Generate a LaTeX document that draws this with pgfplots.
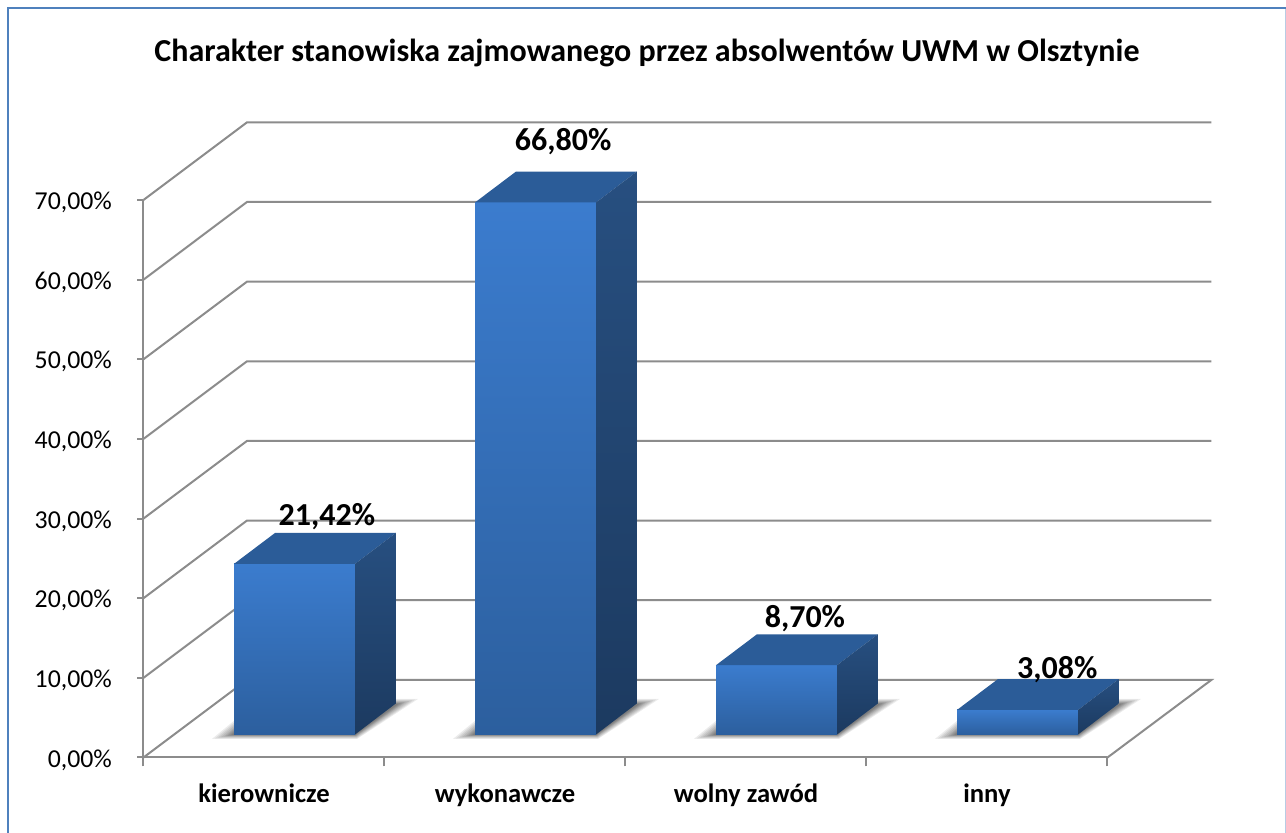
\documentclass[border=0pt]{standalone}
\usepackage{pgfplots}
\pgfplotsset{compat=1.18}
\usepackage{fontspec}
\setmainfont{Carlito}
\definecolor{wall}{HTML}{8C8C8C}
\definecolor{frame}{HTML}{4F81BD}
\definecolor{framepale}{HTML}{B8CCE4}
\definecolor{fronttop}{HTML}{3B7CCE}
\definecolor{frontbot}{HTML}{2C5F9E}
\definecolor{topface}{HTML}{2B5C98}
\definecolor{sidetop}{HTML}{274F80}
\definecolor{sidebot}{HTML}{1C3A60}
% 1 px of the reference = 0.5pt, origin at the front axis corner (143.5,757.5)
\newcommand{\barshadow}[1]{%
  \begin{scope}[xshift=#1*120.5pt]
    \foreach \s in {11,9.5,8,6.5,5,4,3,2,1}{
      \fill[black,opacity=.075]
        ({45.25pt},{(11.75+0.6*\s)*1pt})
        --({(45.25-\s)*1pt},{(11.5-0.2*\s)*1pt})
        --({(105.75+0.1*\s)*1pt},{(11.5-0.2*\s)*1pt})
        --({(126.25+\s)*1pt},{(26.5+0.25*\s)*1pt})
        --({126.25pt},{(26.5+0.25*\s)*1pt})
        --({105.75pt},{15pt})--cycle;
    }
  \end{scope}}
\begin{document}
\begin{tikzpicture}
\path[use as bounding box] (-71.75pt,-37.75pt) rectangle (571.25pt,378.75pt);
\fill[white] (-71.75pt,-37.75pt) rectangle (571.25pt,378.75pt);
\draw[framepale,line width=0.6pt] (571pt,-37.75pt) -- (571pt,374.5pt);
\draw[frame,line width=1pt] (-67.75pt,-37.75pt) -- (-67.75pt,374.5pt) -- (571.25pt,374.5pt);
\node[font=\bfseries\fontsize{16}{19}\selectfont] at (251.75pt,352pt)
  {Charakter stanowiska zajmowanego przez absolwentów UWM w Olsztynie};

% walls and axes
\begin{axis}[
    at={(0pt,0pt)}, anchor=origin,
    scale only axis,
    width=482pt, height=278.75pt,
    xmin=0, xmax=4, ymin=0, ymax=70,
    clip=false,
    axis lines=left,
    axis line style={wall,line width=1pt,-},
    tick style={wall,line width=1pt},
    xtick={0,1,2,3,4},
    ytick={0,10,20,30,40,50,60,70},
    xticklabels={kierownicze,wykonawcze,wolny zawód,inny},
    x tick label as interval,
    yticklabels={{0,00\%},{10,00\%},{20,00\%},{30,00\%},{40,00\%},{50,00\%},{60,00\%},{70,00\%}},
    ytick align=outside, xtick align=outside,
    xtick style={/pgfplots/major tick length=4.5pt},
    ytick style={/pgfplots/major tick length=3pt},
    xticklabel style={font=\bfseries\fontsize{13.3}{16}\selectfont,yshift=-5.5pt},
    yticklabel style={font=\fontsize{12.9}{15}\selectfont,xshift=-8pt,yshift=-1.2pt},
]
\addplot[wall,line width=1pt] coordinates {(4,0) (4.4315,9.75) (0.4295,9.75) (0,0)};
\addplot[wall,line width=1pt] coordinates {(0,10) (0.4295,19.75) (4.4315,19.75)};
\addplot[wall,line width=1pt] coordinates {(0,20) (0.4295,29.75) (4.4315,29.75)};
\addplot[wall,line width=1pt] coordinates {(0,30) (0.4295,39.75) (4.4315,39.75)};
\addplot[wall,line width=1pt] coordinates {(0,40) (0.4295,49.75) (4.4315,49.75)};
\addplot[wall,line width=1pt] coordinates {(0,50) (0.4295,59.75) (4.4315,59.75)};
\addplot[wall,line width=1pt] coordinates {(0,60) (0.4295,69.75) (4.4315,69.75)};
\addplot[wall,line width=1pt] coordinates {(0,70) (0.4295,79.75) (4.4315,79.75)};
\end{axis}

% soft shadows on the floor
\barshadow{0}\barshadow{1}\barshadow{2}\barshadow{3}

% bars: same scale, baseline moved back onto the floor
\begin{axis}[
    at={(0pt,11.5pt)}, anchor=origin,
    scale only axis,
    width=482pt, height=278.75pt,
    xmin=0, xmax=4, ymin=0, ymax=70,
    clip=false,
    hide axis,
]
\pgfplotsset{frontface/.style={ybar,bar width=60.5pt,bar shift=0pt,draw=none,shade,top color=fronttop,bottom color=frontbot}}
\addplot[frontface] coordinates {(0.6266,21.42)};
\addplot[frontface] coordinates {(1.6266,66.80)};
\addplot[frontface] coordinates {(2.6266,8.70)};
\addplot[frontface] coordinates {(3.6266,3.08)};
% top faces
\addplot[fill=topface,draw=none] coordinates {(0.3755,21.42) (0.5456,25.3) (1.0467,25.3) (0.8777,21.42)};
\addplot[fill=topface,draw=none] coordinates {(1.3755,66.80) (1.5456,70.68) (2.0467,70.68) (1.8777,66.80)};
\addplot[fill=topface,draw=none] coordinates {(2.3755,8.70) (2.5456,12.58) (3.0467,12.58) (2.8777,8.70)};
\addplot[fill=topface,draw=none] coordinates {(3.3755,3.08) (3.5456,6.96) (4.0467,6.96) (3.8777,3.08)};
% side faces
\addplot[shade,top color=sidetop,bottom color=sidebot,draw=none] coordinates {(0.8777,0) (1.0467,3.88) (1.0467,25.3) (0.8777,21.42)};
\addplot[shade,top color=sidetop,bottom color=sidebot,draw=none] coordinates {(1.8777,0) (2.0467,3.88) (2.0467,70.68) (1.8777,66.80)};
\addplot[shade,top color=sidetop,bottom color=sidebot,draw=none] coordinates {(2.8777,0) (3.0467,3.88) (3.0467,12.58) (2.8777,8.70)};
\addplot[shade,top color=sidetop,bottom color=sidebot,draw=none] coordinates {(3.8777,0) (4.0467,3.88) (4.0467,6.96) (3.8777,3.08)};
% value labels
\tikzset{lab/.style={font=\bfseries\fontsize{16}{19}\selectfont}}
\node[lab] at (axis cs:0.7608,27.4) {21,42\%};
\node[lab] at (axis cs:1.7415,74.5) {66,80\%};
\node[lab] at (axis cs:2.7445,14.6) {8,70\%};
\node[lab] at (axis cs:3.7915,8.2) {3,08\%};
\end{axis}
\end{tikzpicture}
\end{document}
